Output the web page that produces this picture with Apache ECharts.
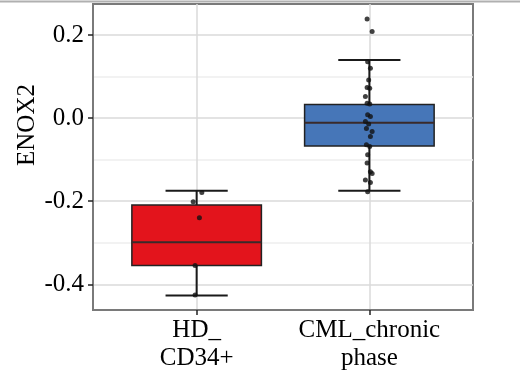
<!DOCTYPE html>
<html>
<head>
<meta charset="UTF-8">
<title>ENOX2</title>
<script src="https://cdn.jsdelivr.net/npm/echarts@6/dist/echarts.min.js"></script>
<style>
  html, body { margin: 0; padding: 0; background: #fff; }
  #container { width: 520px; height: 371px; }
</style>
</head>
<body>
<div id="container"></div>
<script>
// groups
var categories = ['HD_\nCD34+', 'CML_chronic\nphase'];
var boxColors = ['#E3141C', '#4676B8'];

// box stats
var whiskerLow  = [-0.427, -0.175];
var q1          = [-0.355, -0.067];
var median      = [-0.299, -0.011];
var q3          = [-0.209,  0.033];
var whiskerHigh = [-0.175,  0.140];

// jittered points: [offset from group centre, value]
var hdPoints = [
  [0.030, -0.179], [-0.020, -0.201], [0.016, -0.240],
  [-0.009, -0.355], [-0.009, -0.426]
];
var cmlPoints = [
  [-0.013, 0.239], [0.016, 0.209], [-0.010, 0.136], [0.006, 0.120],
  [-0.004, 0.092], [-0.013, 0.074], [0.002, 0.072], [-0.023, 0.052],
  [-0.013, 0.036], [0.002, 0.034], [-0.010, 0.008], [0.006, 0.004],
  [-0.023, -0.008], [-0.004, -0.014], [-0.017, -0.025], [0.016, -0.032],
  [0.006, -0.044], [-0.017, -0.064], [0.002, -0.068], [-0.010, -0.088],
  [-0.013, -0.108], [0.006, -0.129], [0.016, -0.133], [-0.023, -0.149],
  [0.006, -0.155], [-0.010, -0.177]
];

var yTicks = [-0.4, -0.2, 0, 0.2];
var yMinor = [-0.3, -0.1, 0.1];

var boxData = categories.map(function (c, i) {
  return [i + 1, whiskerLow[i], q1[i], median[i], q3[i], whiskerHigh[i]];
});
var pointData = [];
[hdPoints, cmlPoints].forEach(function (pts, i) {
  pts.forEach(function (p) { pointData.push([i + 1 + p[0], p[1]]); });
});

function renderBox(params, api) {
  var x = api.value(0);
  var lo = api.coord([x, api.value(1)]);
  var b1 = api.coord([x, api.value(2)]);
  var md = api.coord([x, api.value(3)]);
  var b3 = api.coord([x, api.value(4)]);
  var hi = api.coord([x, api.value(5)]);
  var half = api.size([0.375, 0])[0];
  var cap = api.size([0.18, 0])[0];
  var line = { stroke: '#1a1a1a', lineWidth: 2 };
  return {
    type: 'group',
    children: [
      { type: 'line', shape: { x1: lo[0], y1: lo[1], x2: hi[0], y2: hi[1] }, style: line },
      { type: 'line', shape: { x1: lo[0] - cap, y1: lo[1], x2: lo[0] + cap, y2: lo[1] }, style: line },
      { type: 'line', shape: { x1: hi[0] - cap, y1: hi[1], x2: hi[0] + cap, y2: hi[1] }, style: line },
      { type: 'rect', shape: { x: b3[0] - half, y: b3[1], width: half * 2, height: b1[1] - b3[1] },
        style: { fill: boxColors[params.dataIndex], stroke: '#222', lineWidth: 1.5 } },
      { type: 'line', shape: { x1: md[0] - half, y1: md[1], x2: md[0] + half, y2: md[1] },
        style: { stroke: '#3a2a2a', lineWidth: 2 } }
    ]
  };
}

var font = 'Liberation Serif';
var frame = { show: true, onZero: false, lineStyle: { color: '#7a7a7a', width: 2 } };
var myChart = echarts.init(document.getElementById('container'));
var option = {
  animation: false,
  grid: {
    left: 93, right: 47, top: 4, bottom: 61, outerBoundsMode: 'none',
    show: true, borderColor: '#7a7a7a', borderWidth: 2, backgroundColor: '#fff'
  },
  xAxis: {
    type: 'value', min: 0.4, max: 2.6,
    axisLine: frame,
    axisTick: { show: true, customValues: [1, 2], length: 5, lineStyle: { color: '#222', width: 1.5 } },
    axisLabel: {
      customValues: [1, 2],
      formatter: function (v) { return categories[Math.round(v) - 1]; },
      fontFamily: font, fontSize: 25, color: '#000', lineHeight: 28, margin: 6
    },
    splitLine: { show: true, lineStyle: { color: '#dadada', width: 1.5 } }
  },
  yAxis: [{
    type: 'value', min: -0.462, max: 0.275,
    name: 'ENOX2', nameLocation: 'middle', nameGap: 53, nameMoveOverlap: false,
    nameTextStyle: { fontFamily: font, fontSize: 25, color: '#000', padding: [0, 0, 0, 64] },
    axisLine: frame,
    axisTick: { show: true, customValues: yTicks, length: 5, lineStyle: { color: '#222', width: 1.5 } },
    axisLabel: {
      customValues: yTicks,
      formatter: function (v) { return v.toFixed(1); },
      fontFamily: font, fontSize: 25, color: '#000', margin: 9
    },
    splitLine: { show: true, lineStyle: { color: '#dadada', width: 1.5 } }
  }, {
    type: 'value', min: -0.462, max: 0.275, position: 'left',
    axisLine: { show: false, onZero: false },
    axisTick: { show: false, customValues: yMinor },
    axisLabel: { show: false, customValues: yMinor },
    splitLine: { show: true, lineStyle: { color: '#eeeeee', width: 1.5 } }
  }],
  graphic: [{
    type: 'line', shape: { x1: 0, y1: 1.5, x2: 520, y2: 1.5 },
    style: { stroke: '#b0b0b0', lineWidth: 2 }, z: 100
  }],
  series: [{
    type: 'custom',
    renderItem: renderBox,
    data: boxData,
    encode: { x: 0, y: [1, 2, 3, 4, 5] },
    z: 2
  }, {
    type: 'scatter',
    data: pointData,
    symbolSize: 5,
    itemStyle: { color: '#111' },
    z: 3
  }]
};
myChart.setOption(option);
</script>
</body>
</html>
